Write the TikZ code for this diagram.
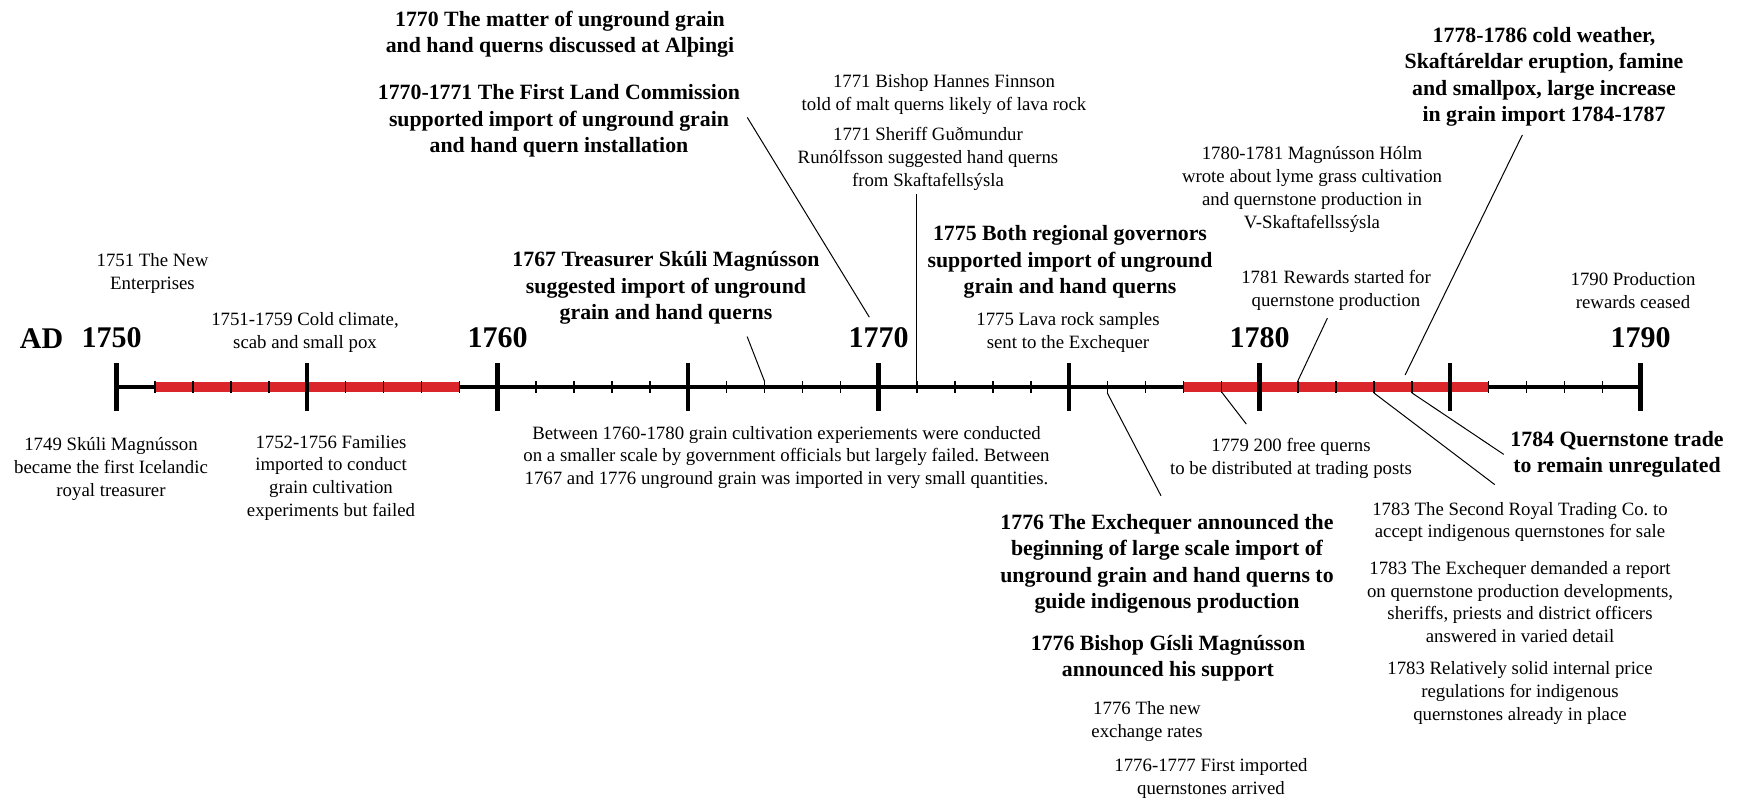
\documentclass[tikz,border=0pt]{standalone}
\usepackage{fontspec}
\setmainfont{Liberation Serif}
\usetikzlibrary{calc, positioning}
\definecolor{barred}{RGB}{218,37,42}
\frenchspacing

\begin{document}
\begin{tikzpicture}[x=1pt, y=-1pt,
  ev/.style={align=center, inner sep=0pt, font=\fontsize{18.8}{22.8}\selectfont},
  evbold/.style={align=center, inner sep=0pt, font=\fontsize{21.8}{26.5}\selectfont\bfseries},
  yearlbl/.style={inner sep=0pt, anchor=base, font=\fontsize{30}{36}\selectfont\bfseries},
  pointer/.style={line width=1pt}]
  \useasboundingbox (0,0) rectangle (1737,799);
  % one coordinate per year on the axis
  \foreach \yr in {1750,...,1790}
    \coordinate (y\yr) at ({116.7+(\yr-1750)*38.1}, 387);

  % events above the axis
  \node[evbold] (matter) at (560,34) {1770 The matter of unground grain\\and hand querns discussed at Alþingi};
  \node[evbold] (commission) at (559,121) {1770-1771 The First Land Commission\\supported import of unground grain\\and hand quern installation};
  \node[evbold] (treasurer) at (666,288.3) {1767 Treasurer Skúli Magnússon\\suggested import of unground\\grain and hand querns};
  \node[ev] (bishop) at (944,94.3) {1771 Bishop Hannes Finnson\\told of malt querns likely of lava rock};
  \node[ev] (sheriff) at (928,158.8) {1771 Sheriff Guðmundur\\Runólfsson suggested hand querns\\from Skaftafellsýsla};
  \node[evbold] (governors) at (1070,262.3) {1775 Both regional governors\\supported import of unground\\grain and hand querns};
  \node[ev] (lava) at (1068,332.5) {1775 Lava rock samples\\sent to the Exchequer};
  \node[ev] (holm) at (1312,189.6) {1780-1781 Magnússon Hólm\\wrote about lyme grass cultivation\\and quernstone production in\\V-Skaftafellssýsla};
  \node[ev] (rewards) at (1336,290.6) {1781 Rewards started for\\quernstone production};
  \node[evbold] (eruption) at (1544,76.7) {1778-1786 cold weather,\\Skaftáreldar eruption, famine\\and smallpox, large increase\\in grain import 1784-1787};
  \node[ev] (ceased) at (1633,290.6) {1790 Production\\rewards ceased};
  \node[ev] (enterprises) at (152.5,273.8) {1751 The New\\Enterprises};
  \node[ev] (climate) at (305,332.5) {1751-1759 Cold climate,\\scab and small pox};

  % events below the axis
  \node[ev] (skuli) at (111,469) {1749 Skúli Magnússon\\became the first Icelandic\\royal treasurer};
  \node[ev] (families) at (331,477.8) {1752-1756 Families\\imported to conduct\\grain cultivation\\experiments but failed};
  \node[ev] (between) at (786.5,457.4) {Between 1760-1780 grain cultivation experiements were conducted\\on a smaller scale by government officials but largely failed. Between\\1767 and 1776 unground grain was imported in very small quantities.};
  \node[ev] (freequerns) at (1291,458.8) {1779 200 free querns\\to be distributed at trading posts};
  \node[evbold] (unregulated) at (1617,454.4) {1784 Quernstone trade\\to remain unregulated};
  \node[ev] (royalco) at (1520,522) {1783 The Second Royal Trading Co. to\\accept indigenous quernstones for sale};
  \node[ev] (report) at (1520,602) {1783 The Exchequer demanded a report\\on quernstone production developments,\\sheriffs, priests and district officers\\answered in varied detail};
  \node[ev] (pricereg) at (1520,693.2) {1783 Relatively solid internal price\\regulations for indigenous\\quernstones already in place};
  \node[evbold] (exchequer) at (1167,563.9) {1776 The Exchequer announced the\\beginning of large scale import of\\unground grain and hand querns to\\guide indigenous production};
  \node[evbold] (gisli) at (1168,658.2) {1776 Bishop Gísli Magnússon\\announced his support};
  \node[ev] (rates) at (1147,721.8) {1776 The new\\exchange rates};
  \node[ev] (arrived) at (1211,778.3) {1776-1777 First imported\\quernstones arrived};

  % year labels
  \foreach \yr in {1760,1770,1780,1790}
    \node[yearlbl] (L\yr) at ([yshift=39pt]y\yr) {\yr};
  \node[yearlbl] (L1750) at ([xshift=-5pt,yshift=39pt]y1750) {1750};
  \node[yearlbl, left=18pt of L1750] (AD) {AD};

  % pointers
  \coordinate (s1771) at (sheriff.south -| y1771);
  \draw[pointer] ([xshift=7pt,yshift=3.6pt]commission.east) -- ([xshift=-9.4pt,yshift=10.7pt]L1770.north);
  \draw[pointer] ([xshift=-72.6pt,yshift=-11.6pt]treasurer.south east) -- ([yshift=6pt]y1767);
  \draw[pointer] ([yshift=-4pt]s1771) -- (y1771);
  \draw[pointer] ([xshift=-8.6pt,yshift=-7.3pt]rewards.south) -- ([yshift=6pt]y1781);
  \draw[pointer] ([xshift=-21.7pt,yshift=-8.4pt]eruption.south) -- ([xshift=-7pt,yshift=12pt]y1784);
  \draw[pointer] ([yshift=-5pt]y1779) -- ([xshift=-44.7pt,yshift=14.5pt]freequerns.north);
  \draw[pointer] ([yshift=-6pt]y1776) -- ([xshift=-6pt,yshift=18.2pt]exchequer.north);
  \draw[pointer] ([yshift=-6pt]y1783) -- ([xshift=-25.2pt,yshift=17.2pt]royalco.north);
  \draw[pointer] ([yshift=-6pt]y1784) -- ([xshift=-6.5pt]unregulated.west);

  % the axis
  \draw[line width=4.5pt] (y1750) -- (y1790);
  \draw[line width=10.5pt, barred] (y1751) -- (y1759);
  \draw[line width=10.5pt, barred] (y1778) -- (y1786);
  \foreach \yr in {1751,...,1789}
    \draw[line width=1.4pt] ([yshift=6pt]y\yr) -- ([yshift=-6pt]y\yr);
  \foreach \yr in {1750,1755,...,1790}
    \draw[line width=4.5pt] ([yshift=23.5pt]y\yr) -- ([yshift=-23.5pt]y\yr);
\end{tikzpicture}
\end{document}
